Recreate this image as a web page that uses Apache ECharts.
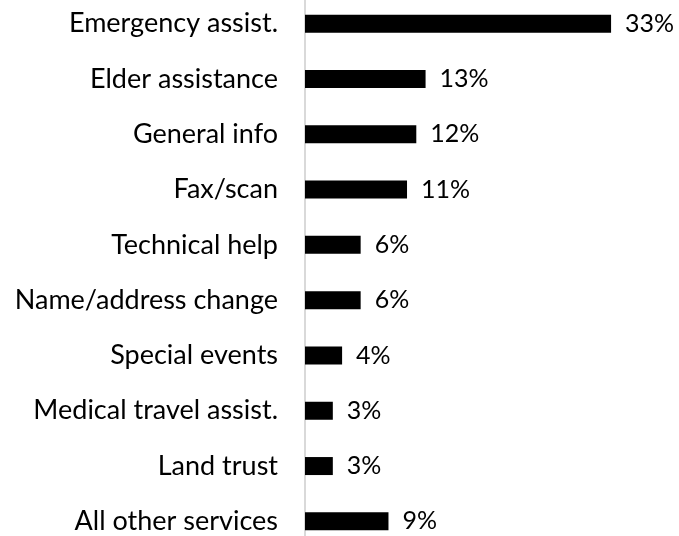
<!DOCTYPE html>
<html>
<head>
<meta charset="utf-8">
<script src="https://cdn.jsdelivr.net/npm/echarts@6/dist/echarts.min.js"></script>
<style>
  html, body { margin: 0; padding: 0; background: #fff; overflow: hidden; }
  /* rows run slightly past the window edges, as in the original */
  #chart { position: absolute; left: 0; top: -4px; width: 679px; height: 553px; }
</style>
</head>
<body>
<div id="chart"></div>
<script>
// top to bottom as shown in the picture
const services = [
  'Emergency assist.',
  'Elder assistance',
  'General info',
  'Fax/scan',
  'Technical help',
  'Name/address change',
  'Special events',
  'Medical travel assist.',
  'Land trust',
  'All other services',
];
const shares = [33, 13, 12, 11, 6, 6, 4, 3, 3, 9];

const chart = echarts.init(document.getElementById('chart'));
const font = 'Lato, "Open Sans", sans-serif';

chart.setOption({
  animation: false,
  grid: { left: 305, top: 0, bottom: 0, width: 371 },
  xAxis: {
    type: 'value',
    min: 0,
    max: 40,
    show: false,
  },
  yAxis: {
    type: 'category',
    inverse: true,
    data: services,
    axisLine: { show: true, lineStyle: { color: '#d9d9d9', width: 2 } },
    axisTick: { show: false },
    axisLabel: { color: '#000', fontSize: 27, fontFamily: font, margin: 27 },
  },
  series: [
    {
      type: 'bar',
      data: shares,
      barWidth: 18,
      itemStyle: { color: '#000' },
      label: {
        show: true,
        position: 'right',
        distance: 14,
        formatter: '{c}%',
        color: '#000',
        fontSize: 25,
        fontFamily: font,
      },
    },
  ],
});
</script>
</body>
</html>
